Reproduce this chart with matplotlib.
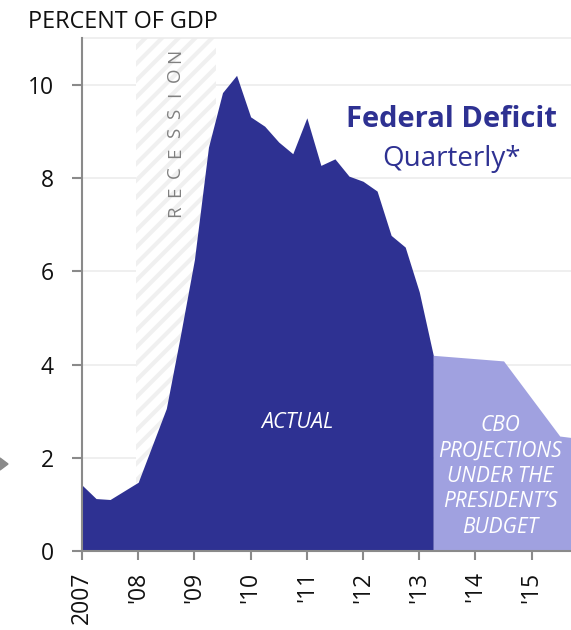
import matplotlib
matplotlib.use("Agg")
import matplotlib.pyplot as plt
from matplotlib.patches import Polygon

# ---- data ----
actual_x = [2007.0, 2007.25, 2007.5, 2008.0, 2008.5, 2008.75, 2009.0, 2009.25,
            2009.5, 2009.75, 2010.0, 2010.25, 2010.5, 2010.75, 2011.0, 2011.25,
            2011.5, 2011.75, 2012.0, 2012.25, 2012.5, 2012.75, 2013.0, 2013.25]
actual_v = [1.42, 1.13, 1.11, 1.48, 3.06, 4.62, 6.25, 8.66,
            9.83, 10.2, 9.31, 9.11, 8.77, 8.52, 9.29, 8.27,
            8.41, 8.04, 7.93, 7.72, 6.77, 6.52, 5.56, 4.2]
proj_x = [2013.25, 2014.5, 2015.5, 2015.7]
proj_v = [4.2, 4.08, 2.47, 2.44]
recession = (2007.96, 2009.38)
year_ticks = [2007, 2008, 2009, 2010, 2011, 2012, 2013, 2014, 2015]
year_labels = ["2007", "'08", "'09", "'10", "'11", "'12", "'13", "'14", "'15"]
y_ticks = [0, 2, 4, 6, 8, 10]

DARK = "#2e3192"
LIGHT = "#a0a1e0"

plt.rcParams['font.family'] = ['Open Sans', 'DejaVu Sans']
plt.rcParams['hatch.linewidth'] = 3.0

fig = plt.figure(figsize=(5.71, 6.30), dpi=100)
ax = fig.add_axes([82/571, 78.7/630, 1 - 82/571, (592 - 78.7)/630])

ax.set_xlim(2007, 2015.70)
ax.set_ylim(0, 11)

# recession band
ax.axvspan(recession[0], recession[1], facecolor="white", edgecolor="#f0f0f0",
           hatch="//", linewidth=0, zorder=1)

# grid
for yv in y_ticks[1:]:
    ax.axhline(yv, color="#ececec", lw=1.2, zorder=0.5)

ax.fill_between(actual_x, actual_v, 0, color=DARK, lw=0, zorder=3)
ax.fill_between(proj_x, proj_v, 0, color=LIGHT, lw=0, zorder=3)

# spines
ax.spines["right"].set_visible(False)
ax.spines["top"].set_color("#ececec")
ax.spines["top"].set_linewidth(1.2)
for s in ["left", "bottom"]:
    ax.spines[s].set_color("#8a8a8a")
    ax.spines[s].set_linewidth(1.5)
    ax.spines[s].set_zorder(5)

ax.set_yticks(y_ticks)
ax.set_yticklabels([str(v) for v in y_ticks])
ax.set_xticks(year_ticks)
ax.set_xticklabels(year_labels, rotation=90, va="top", ha="center")
ax.tick_params(axis="y", length=7.2, width=1.5, color="#8a8a8a", pad=13,
               labelsize=16.5, labelcolor="#111111")
ax.tick_params(axis="x", length=6.5, width=1.5, color="#8a8a8a", pad=8,
               labelsize=16.5, labelcolor="#111111")

# texts
fig.text(28/571, 1 - 28/630, "PERCENT OF GDP", fontsize=16.8, color="#111111",
         ha="left", va="baseline")

ax.text(2013.57, 9.09, "Federal Deficit", fontsize=21, fontweight="bold",
        color=DARK, ha="center", va="baseline", zorder=6)
ax.text(2013.57, 8.25, "Quarterly*", fontsize=20, color=DARK,
        ha="center", va="baseline", zorder=6)

ax.text(2010.83, 2.65, "ACTUAL", fontsize=15.5, style="italic", color="white",
        ha="center", va="baseline", zorder=6)
ax.text(2014.44, 1.60, "CBO\nPROJECTIONS\nUNDER THE\nPRESIDENT\u2019S\nBUDGET",
        fontsize=15, style="italic", color="white", ha="center", va="center",
        linespacing=1.27, zorder=6)

# vertical letter-spaced RECESSION label
word = "RECESSION"
y_bot_px, y_top_px = 211.0, 55.0
for i, ch in enumerate(word):
    py = y_bot_px + (y_top_px - y_bot_px) * i / (len(word) - 1)
    ax.text(2008.655, (551.3 - py) / 46.7, ch, fontsize=13.5, color="#808080",
            rotation=90, ha="center", va="center", zorder=6)

# left pointer triangle
tri = Polygon([[0, 1 - 458/630], [8/571, 1 - 464/630], [0, 1 - 470/630]],
              closed=True, transform=fig.transFigure, color="#8a8a8a")
fig.add_artist(tri)

fig.savefig("out.png", dpi=100)
